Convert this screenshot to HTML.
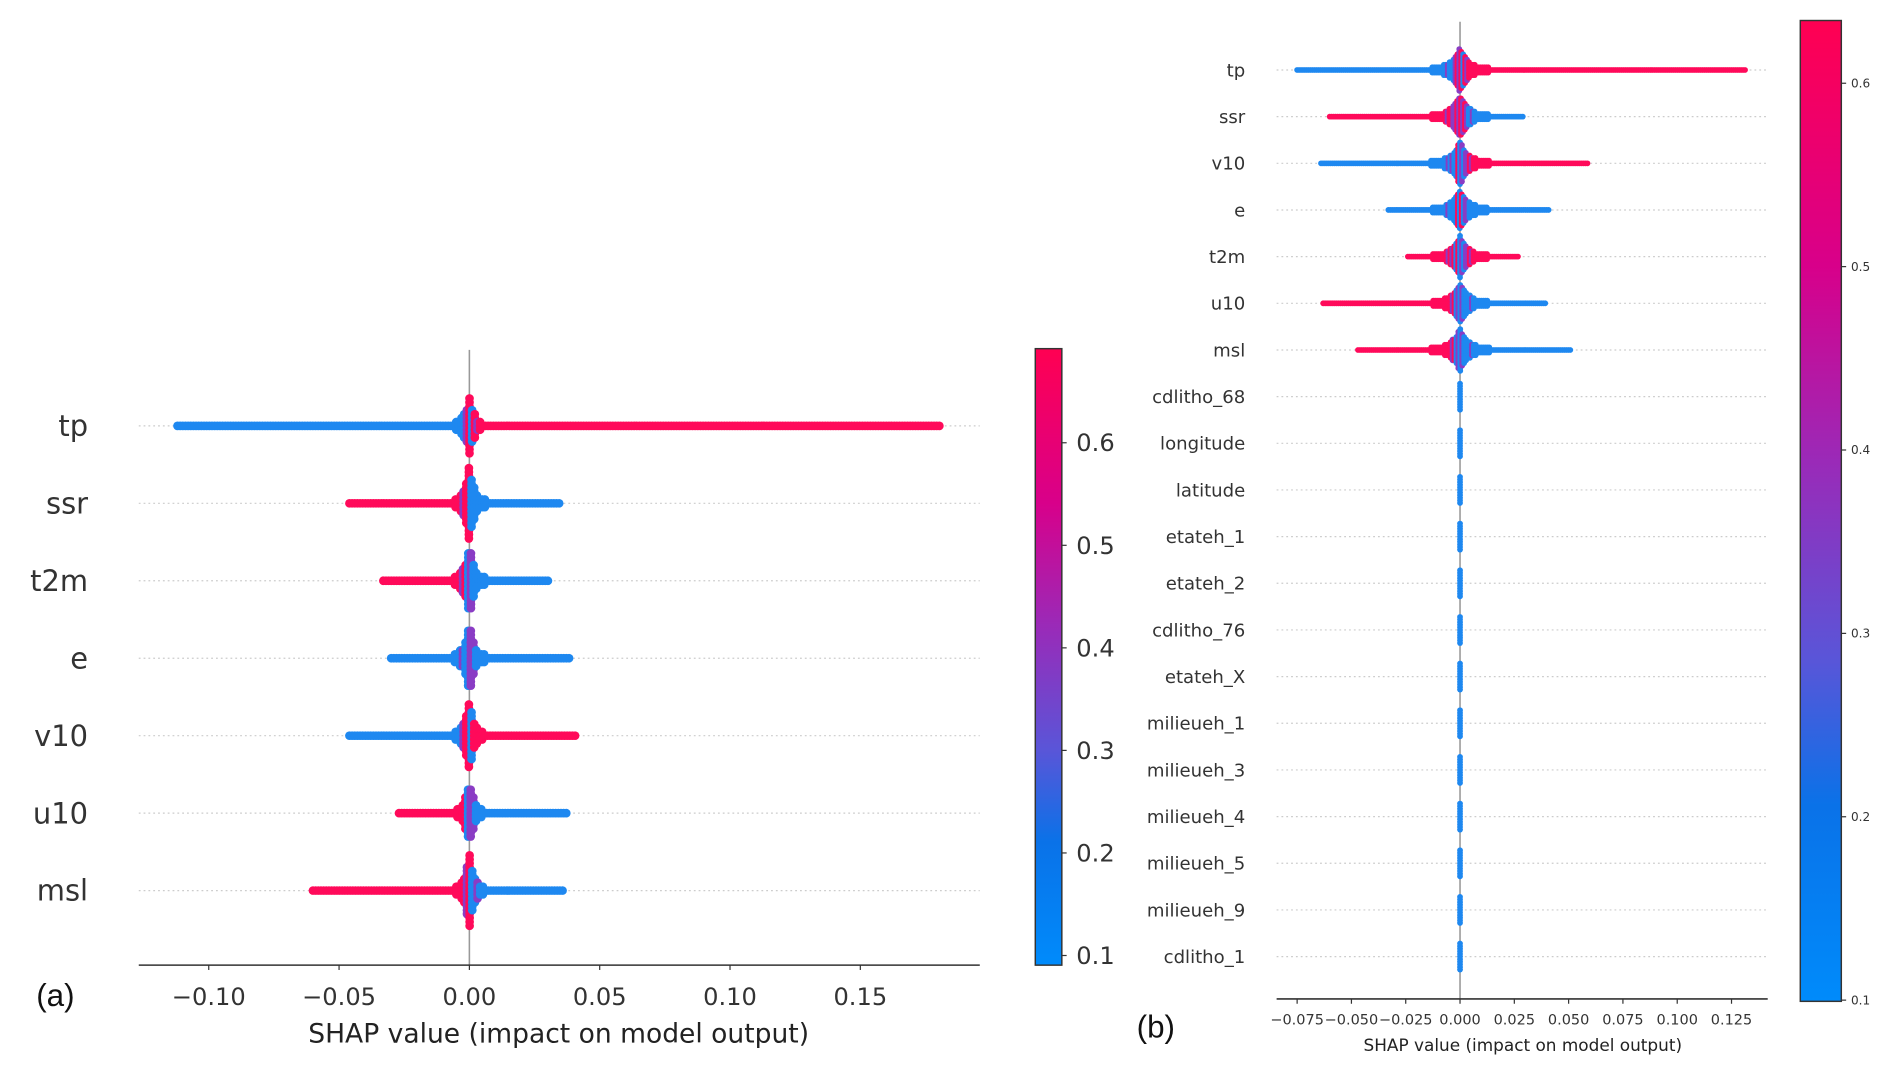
<!DOCTYPE html>
<html><head><meta charset="utf-8"><style>
html,body{margin:0;padding:0;background:#fff;}
svg{display:block;font-family:"DejaVu Sans","Liberation Sans",sans-serif;}
</style></head><body>
<svg id="fig" width="1892" height="1087" viewBox="0 0 1568 901" preserveAspectRatio="none" xmlns="http://www.w3.org/2000/svg">
<defs>
<linearGradient id="cmap" x1="0" y1="1" x2="0" y2="0">
<stop offset="0" stop-color="#008bfb"/><stop offset="0.2" stop-color="#0a72e8"/>
<stop offset="0.35" stop-color="#5a55d8"/><stop offset="0.55" stop-color="#9a2ab8"/>
<stop offset="0.75" stop-color="#d8008a"/><stop offset="1" stop-color="#ff0052"/>
</linearGradient>
</defs>
<g id="pa"></g>
<g id="pb"></g>
</svg>
<script>
// Panel (a) data
const aFeatures = ['tp','ssr','t2m','e','v10','u10','msl'];
const aMin = [-0.112,-0.046,-0.033,-0.030,-0.046,-0.027,-0.060];
const aMax = [0.181,0.035,0.031,0.039,0.041,0.038,0.036];
const aPeak = [0.72,0.95,0.85,0.85,0.85,0.8,0.85];
const aLeft = ['blue','red','red','blue','blue','red','red'];
const aRight = ['red','blue','blue','blue','red','blue','blue'];
const aTicks = [-0.10,-0.05,0.00,0.05,0.10,0.15];
const aTickLabels = ['\u22120.10','\u22120.05','0.00','0.05','0.10','0.15'];
const aCbTicks = [0.1,0.2,0.3,0.4,0.5,0.6];
// Panel (b) data
const bFeatures = ['tp','ssr','v10','e','t2m','u10','msl','cdlitho_68','longitude','latitude','etateh_1','etateh_2','cdlitho_76','etateh_X','milieueh_1','milieueh_3','milieueh_4','milieueh_5','milieueh_9','cdlitho_1'];
const bMin = [-0.075,-0.060,-0.064,-0.033,-0.024,-0.063,-0.047,0,0,0,0,0,0,0,0,0,0,0,0,0];
const bMax = [0.132,0.029,0.059,0.041,0.027,0.040,0.051,0,0,0,0,0,0,0,0,0,0,0,0,0];
const bPeak = [0.75,0.75,0.75,0.7,0.7,0.7,0.75,0.45,0.45,0.45,0.45,0.45,0.45,0.45,0.45,0.45,0.45,0.45,0.45,0.45];
const bLeft = ['blue','red','blue','blue','red','red','red','blue','blue','blue','blue','blue','blue','blue','blue','blue','blue','blue','blue','blue'];
const bRight = ['red','blue','red','blue','red','blue','blue','blue','blue','blue','blue','blue','blue','blue','blue','blue','blue','blue','blue','blue'];
const bTicks = [-0.075,-0.05,-0.025,0,0.025,0.05,0.075,0.1,0.125];
const bTickLabels = ['\u22120.075','\u22120.050','\u22120.025','0.000','0.025','0.050','0.075','0.100','0.125'];
const bCbTicks = [0.1,0.2,0.3,0.4,0.5,0.6];

const NS='http://www.w3.org/2000/svg';
const COL={blue:'#1e88f0',red:'#ff0a5a',purple:'#8a3cc4'};
function mk(p,t,a){const e=document.createElementNS(NS,t);for(const k in a)e.setAttribute(k,a[k]);p.appendChild(e);return e;}

function panel(g,cfg){
  const sx=v=>cfg.x0+v*cfg.k;
  const sy=i=>cfg.rowY0+i*cfg.rowStep;
  cfg.features.forEach((f,i)=>{
    const l=mk(g,'line',{x1:cfg.axL,x2:cfg.axR,y1:sy(i),y2:sy(i),stroke:'#cccccc','stroke-width':1,'stroke-dasharray':'1.5 2.5'});
    
    
  });
  const z=mk(g,'line',{x1:sx(0),x2:sx(0),y1:cfg.zTop,y2:cfg.axY,stroke:'#999','stroke-width':1.3});
  
  
  cfg.features.forEach((f,i)=>{
    const sg=mk(g,'g',{});
    
    
    const y=sy(i), r=cfg.r, half=cfg.rowStep/2*cfg.peak[i];
    const x1=sx(cfg.min[i]), x2=sx(cfg.max[i]);
    const w=cfg.w;
    for(let x=x1;x<=x2+0.01;x+=cfg.step){
      const d=Math.abs(x-sx(0));
      const h=half*Math.exp(-d/w)+half*cfg.a2*Math.exp(-d/cfg.w2);
      const n=Math.max(0,Math.floor(h/(r*0.9)));
      let c;
      if(d<w*0.8)c=(Math.round(x)%3===0)?COL.purple:((Math.round(x)%3===1)?COL.blue:COL.red);
      else c=x<sx(0)?COL[cfg.left[i]]:COL[cfg.right[i]];
      if(d<w*2 && d>=w*0.8 && Math.round(x)%4===0) c=COL.purple;
      for(let j=-n;j<=n;j++){
        mk(sg,'circle',{cx:x.toFixed(1),cy:(y+j*r*0.9).toFixed(1),r:r,fill:c});
      }
    }
  });
  const ax=mk(g,'line',{x1:cfg.axL,x2:cfg.axR,y1:cfg.axY,y2:cfg.axY,stroke:'#333','stroke-width':1.3});
  
  
  cfg.ticks.forEach((t,i)=>{
    mk(g,'line',{x1:sx(t),x2:sx(t),y1:cfg.axY,y2:cfg.axY+4,stroke:'#333','stroke-width':1});
    const tl=mk(g,'text',{x:sx(t),y:cfg.tickY,'font-size':cfg.tickFs,'text-anchor':'middle',fill:'#333'});
    tl.textContent=cfg.tickLabels[i];
    
    
  });
  cfg.features.forEach((f,i)=>{
    const t=mk(g,'text',{x:cfg.labX,y:sy(i)+cfg.labFs*0.35,'font-size':cfg.labFs,'text-anchor':'end',fill:'#333'});
    t.textContent=f;
    
    
  });
  const xl=mk(g,'text',{x:cfg.xlX,y:cfg.xlY,'font-size':cfg.xlFs,'text-anchor':'middle',fill:'#222'});
  xl.textContent='SHAP value (impact on model output)';
  
  
  const pl=mk(g,'text',{x:cfg.plX,y:cfg.plY,'font-size':26,fill:'#111','font-family':'Liberation Sans,sans-serif'});
  pl.textContent=cfg.panelLabel;
  
  
  const cb=mk(g,'rect',{x:cfg.cbX,y:cfg.cbTop,width:cfg.cbW,height:cfg.cbBot-cfg.cbTop,fill:'url(#cmap)',stroke:'#333','stroke-width':1.2});
  
  
  const cy=v=>cfg.cbY1+(v-0.1)*(cfg.cbY6-cfg.cbY1)/0.5;
  cfg.cbTicks.forEach(v=>{
    mk(g,'line',{x1:cfg.cbX+cfg.cbW,x2:cfg.cbX+cfg.cbW+4,y1:cy(v),y2:cy(v),stroke:'#333','stroke-width':1});
    const t=mk(g,'text',{x:cfg.cbX+cfg.cbW+cfg.cbLabDx,y:cy(v)+cfg.cbFs*0.35,'font-size':cfg.cbFs,fill:'#333'});
    t.textContent=v.toFixed(1);
    
    
  });
}
panel(document.getElementById('pa'),{features:aFeatures,min:aMin,max:aMax,peak:aPeak,left:aLeft,right:aRight,
  ticks:aTicks,tickLabels:aTickLabels,cbTicks:aCbTicks,
  x0:389,k:2160,rowY0:353,rowStep:64.2,axL:115,axR:812,axY:800,zTop:290,r:3.6,step:2.2,w:4,a2:0.12,w2:25,
  tickY:833,tickFs:20,labX:73,labFs:24,xlX:463,xlY:864,xlFs:22,plX:30,plY:834,panelLabel:'(a)',
  cbX:858,cbW:22,cbTop:289,cbBot:800,cbY1:792,cbY6:367,cbLabDx:12,cbFs:20});
panel(document.getElementById('pb'),{features:bFeatures,min:bMin,max:bMax,peak:bPeak,left:bLeft,right:bRight,
  ticks:bTicks,tickLabels:bTickLabels,cbTicks:bCbTicks,
  x0:1210,k:1800,rowY0:58,rowStep:38.68,axL:1058,axR:1465,axY:828,zTop:18,r:2.4,step:1.6,w:6,a2:0.3,w2:30,
  tickY:849,tickFs:12,labX:1032,labFs:15,xlX:1262,xlY:871,xlFs:14,plX:942,plY:860,panelLabel:'(b)',
  cbX:1492,cbW:34,cbTop:17,cbBot:830,cbY1:829,cbY6:69,cbLabDx:8,cbFs:10});
</script>
</body></html>
